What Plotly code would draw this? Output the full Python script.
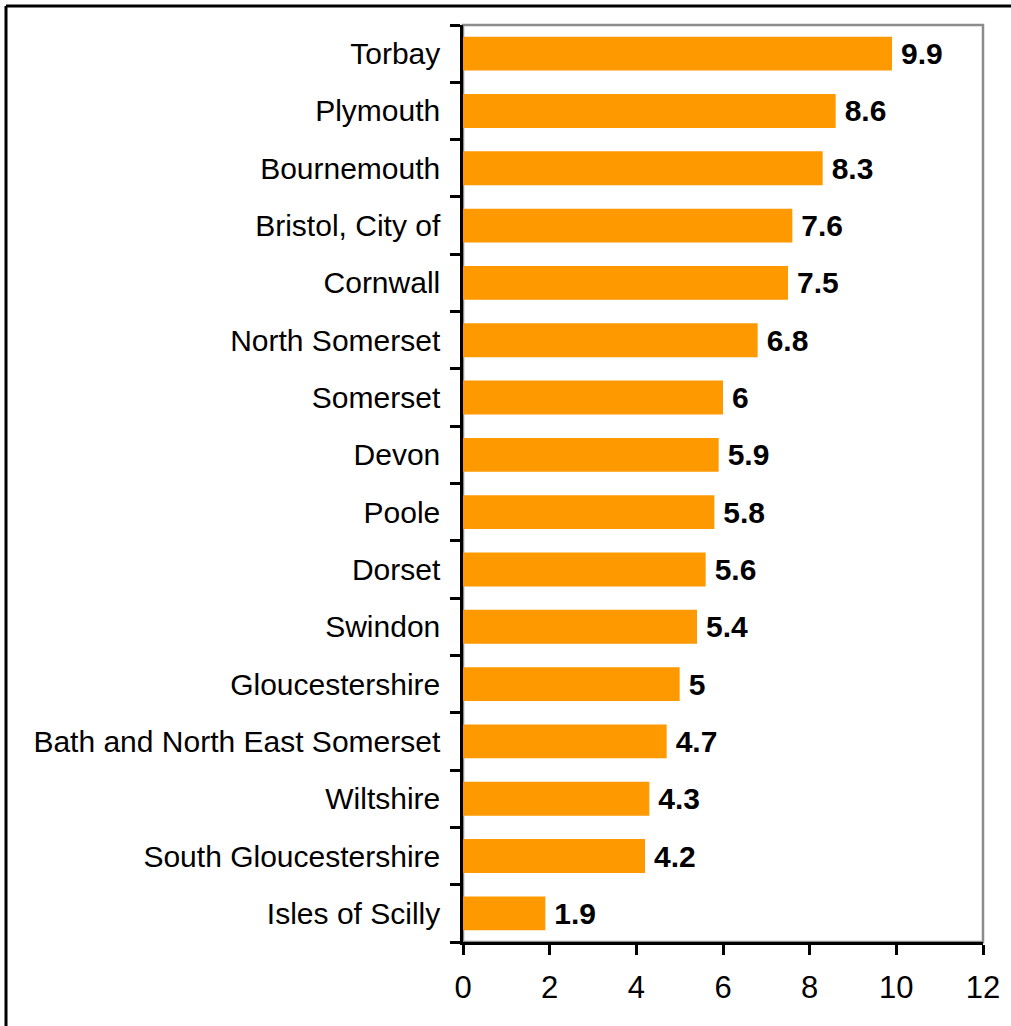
import plotly.graph_objects as go

# Local authorities, listed top to bottom
areas = [
    "Torbay", "Plymouth", "Bournemouth", "Bristol, City of", "Cornwall",
    "North Somerset", "Somerset", "Devon", "Poole", "Dorset", "Swindon",
    "Gloucestershire", "Bath and North East Somerset", "Wiltshire",
    "South Gloucestershire", "Isles of Scilly",
]
rates = [9.9, 8.6, 8.3, 7.6, 7.5, 6.8, 6, 5.9, 5.8, 5.6, 5.4, 5, 4.7, 4.3, 4.2, 1.9]
x_ticks = [0, 2, 4, 6, 8, 10, 12]

FONT = "Liberation Sans, Arial, sans-serif"
W, H = 1011, 1026
L, R, T, B = 463, 28, 25, 84

fig = go.Figure(
    go.Bar(
        x=rates,
        y=areas,
        orientation="h",
        marker=dict(color="#FF9900", line=dict(width=0)),
        text=["\u2009" + f"{v:g}" for v in rates],
        textposition="outside",
        textfont=dict(family=FONT, size=30, color="black", weight="bold"),
        cliponaxis=False,
        hoverinfo="skip",
    )
)

# Grey frame on the plot area's top and right
fig.add_shape(type="rect", xref="paper", yref="paper", x0=0, x1=1, y0=0, y1=1,
              line=dict(color="#8c8c8c", width=2.5), layer="below")

# Outer border along the left and top of the figure
pw, ph = W - L - R, H - T - B
bx = (6 - L) / pw
by = (ph + T - 6) / ph
fig.add_shape(type="line", xref="paper", yref="paper", x0=bx, x1=bx, y0=-1, y1=by,
              line=dict(color="black", width=3))
fig.add_shape(type="line", xref="paper", yref="paper", x0=bx, x1=2, y0=by, y1=by,
              line=dict(color="black", width=3))

fig.update_layout(
    width=W, height=H,
    margin=dict(l=L, r=R, t=T, b=B, pad=0),
    paper_bgcolor="white", plot_bgcolor="white",
    bargap=0.41,
    showlegend=False,
    font=dict(family=FONT, size=30, color="black"),
    uniformtext=dict(minsize=30, mode=False),
)
fig.update_xaxes(
    range=[0, 12], tickvals=x_ticks, ticktext=[str(v) for v in x_ticks],
    showgrid=False, zeroline=False,
    showline=True, linecolor="black", linewidth=2.5,
    ticks="outside", ticklen=10, tickwidth=2.5, tickcolor="black",
    ticklabelstandoff=6,
    tickfont=dict(family=FONT, size=31, color="black"),
)
fig.update_yaxes(
    categoryorder="array", categoryarray=areas[::-1],
    showgrid=False, zeroline=False,
    showline=True, linecolor="black", linewidth=2.5,
    ticks="outside", ticklen=10, tickwidth=2.5, tickcolor="black",
    tickson="boundaries", ticklabelstandoff=14,
    tickfont=dict(family=FONT, size=30, color="black"),
)

fig.write_html("out.html")
